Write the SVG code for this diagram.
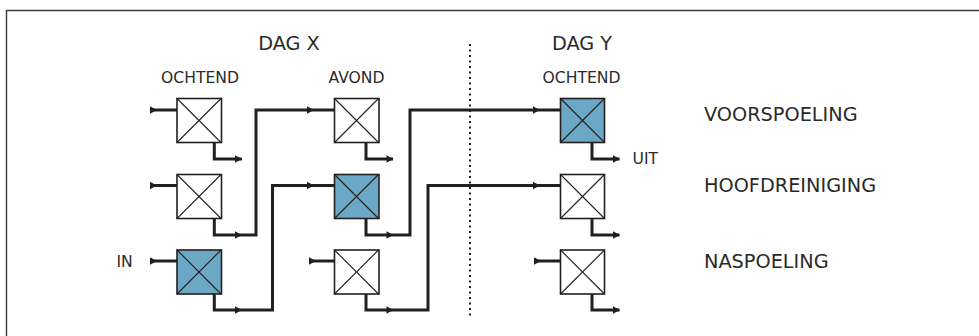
<svg xmlns="http://www.w3.org/2000/svg" xmlns:xlink="http://www.w3.org/1999/xlink" width="979" height="336" viewBox="0 0 979 336">
<style>
.frame{fill:none;stroke:#3a3a3a;stroke-width:1.4}
.box{stroke:#231f20;stroke-width:1.6}
.w{fill:#ffffff}
.b{fill:#6aa8c5}
.diag{stroke:#231f20;stroke-width:1.1;fill:none}
.con{fill:none;stroke:#231f20;stroke-width:3;stroke-linejoin:miter}
.ah{fill:#231f20}
.dot{stroke:#231f20;stroke-width:2;stroke-dasharray:2 3.5;fill:none}
text{font-family:"DejaVu Sans","Liberation Sans",sans-serif;fill:#2a2a2a}
.big{font-size:19.3px}
.sm{font-size:15.6px}
</style>
<defs>
<path id="ah" d="M-7,-3.8 L0,0 L-7,3.8 z"/>
<g id="x"><line x1="0" y1="0" x2="44" y2="44"/><line x1="44" y1="0" x2="0" y2="44"/></g>
</defs>
<path class="frame" d="M6.5,336 V10.5 H979"/>
<line class="dot" x1="470" y1="44" x2="470" y2="318"/>
<text class="big" x="289" y="50" text-anchor="middle">DAG X</text>
<text class="big" x="582" y="50" text-anchor="middle">DAG Y</text>
<text class="sm" x="200" y="83" text-anchor="middle">OCHTEND</text>
<text class="sm" x="356.5" y="83" text-anchor="middle">AVOND</text>
<text class="sm" x="581.5" y="83" text-anchor="middle">OCHTEND</text>
<text class="big" x="704" y="121">VOORSPOELING</text>
<text class="big" x="704" y="191.5">HOOFDREINIGING</text>
<text class="big" x="704" y="267.5">NASPOELING</text>
<text class="sm" x="116.5" y="266.5">IN</text>
<text class="sm" x="632.5" y="164">UIT</text>
<g id="connectors">
<path class="con" d="M150,110 H177"/>
<path class="con" d="M150,185.5 H177"/>
<path class="con" d="M150,261 H177"/>
<path class="con" d="M309,261 H334.5"/>
<path class="con" d="M534,261 H560.5"/>
<path class="con" d="M214.3,142.5 V159 H242"/>
<path class="con" d="M214.3,218.5 V235 H256 V110 H334.5"/>
<path class="con" d="M214.3,294 V310 H272.5 V185.5 H334.5"/>
<path class="con" d="M366,142.5 V159 H393"/>
<path class="con" d="M366,218.5 V235 H410 V110 H560.5"/>
<path class="con" d="M366,294 V310 H428 V185.5 H560.5"/>
<path class="con" d="M592,142.5 V159 H619.5"/>
<path class="con" d="M592,218.5 V235 H619.5"/>
<path class="con" d="M592,294 V310 H619.5"/>
<g class="ah">
<use xlink:href="#ah" x="157" y="110"/>
<use xlink:href="#ah" x="157" y="185.5"/>
<use xlink:href="#ah" x="157" y="261"/>
<use xlink:href="#ah" x="316" y="261"/>
<use xlink:href="#ah" x="541" y="261"/>
<use xlink:href="#ah" x="242" y="159"/>
<use xlink:href="#ah" x="242" y="235"/>
<use xlink:href="#ah" x="242" y="310"/>
<use xlink:href="#ah" x="314" y="110"/>
<use xlink:href="#ah" x="314" y="185.5"/>
<use xlink:href="#ah" x="393.5" y="159"/>
<use xlink:href="#ah" x="393.5" y="235"/>
<use xlink:href="#ah" x="393.5" y="310"/>
<use xlink:href="#ah" x="540" y="110"/>
<use xlink:href="#ah" x="540" y="185.5"/>
<use xlink:href="#ah" x="620" y="159"/>
<use xlink:href="#ah" x="620" y="235"/>
<use xlink:href="#ah" x="620" y="310"/>
</g>
</g>
<g id="n-x-ochtend-voor" transform="translate(177,98.5)"><rect class="box w" width="44.5" height="44"/><use class="diag" xlink:href="#x"/></g>
<g id="n-x-ochtend-hoofd" transform="translate(177,174.5)"><rect class="box w" width="44.5" height="44"/><use class="diag" xlink:href="#x"/></g>
<g id="n-x-ochtend-na" transform="translate(177,250)"><rect class="box b" width="44.5" height="44"/><use class="diag" xlink:href="#x"/></g>
<g id="n-x-avond-voor" transform="translate(334.5,98.5)"><rect class="box w" width="44.5" height="44"/><use class="diag" xlink:href="#x"/></g>
<g id="n-x-avond-hoofd" transform="translate(334.5,174.5)"><rect class="box b" width="44.5" height="44"/><use class="diag" xlink:href="#x"/></g>
<g id="n-x-avond-na" transform="translate(334.5,250)"><rect class="box w" width="44.5" height="44"/><use class="diag" xlink:href="#x"/></g>
<g id="n-y-ochtend-voor" transform="translate(560.5,98.5)"><rect class="box b" width="44" height="44"/><use class="diag" xlink:href="#x"/></g>
<g id="n-y-ochtend-hoofd" transform="translate(560.5,174.5)"><rect class="box w" width="44" height="44"/><use class="diag" xlink:href="#x"/></g>
<g id="n-y-ochtend-na" transform="translate(560.5,250)"><rect class="box w" width="44" height="44"/><use class="diag" xlink:href="#x"/></g>
</svg>
